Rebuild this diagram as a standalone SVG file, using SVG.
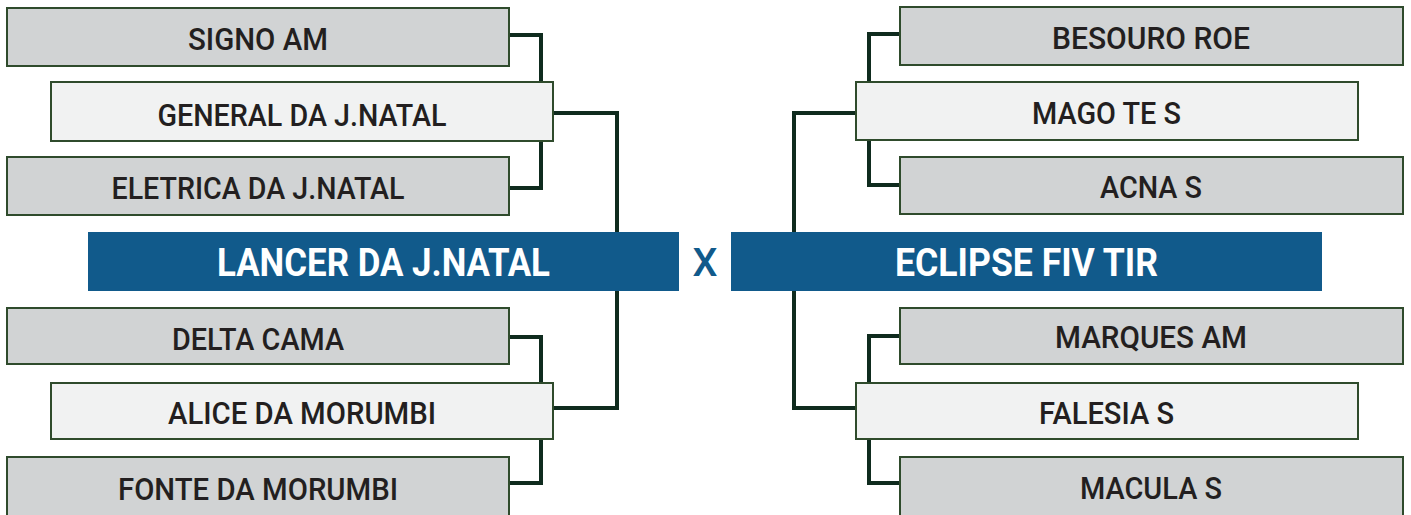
<svg xmlns="http://www.w3.org/2000/svg" width="1411" height="515" viewBox="0 0 1411 515">
<style>
.bg{fill:#ffffff}
.c{fill:none;stroke:#0f2b1e;stroke-width:4}
.g{fill:#d1d3d4;stroke:#2f4b2c;stroke-width:2}
.l{fill:#f1f2f2;stroke:#2f4b2c;stroke-width:2}
.b{fill:#115a8b}
.t{font-family:Roboto,"Liberation Sans",sans-serif;font-weight:500;font-size:32px;fill:#231f20;text-anchor:middle}
.w{font-family:Roboto,"Liberation Sans",sans-serif;font-weight:700;font-size:38px;fill:#ffffff;text-anchor:middle}
.x{font-family:Roboto,"Liberation Sans",sans-serif;font-weight:500;font-size:38px;fill:#115a8b;text-anchor:middle}
</style>
<rect class="bg" x="0" y="0" width="1411" height="515"/>
<g id="connectors">
<path class="c" d="M510,35 H541 V188 H510"/>
<path class="c" d="M553,113 H617 V408 H553"/>
<path class="c" d="M510,337 H541 V483 H510"/>
<path class="c" d="M900,34 H869 V185 H900"/>
<path class="c" d="M855,113 H794 V408 H855"/>
<path class="c" d="M900,336 H869 V483 H900"/>
</g>
<g id="signo"><rect class="g" x="7" y="8" width="502" height="58"/><text class="t" x="258" y="50" textLength="140" lengthAdjust="spacingAndGlyphs">SIGNO AM</text></g>
<g id="general"><rect class="l" x="51" y="82" width="502" height="59"/><text class="t" x="302" y="126" textLength="289" lengthAdjust="spacingAndGlyphs">GENERAL DA J.NATAL</text></g>
<g id="eletrica"><rect class="g" x="7" y="157" width="502" height="58"/><text class="t" x="258" y="199" textLength="293" lengthAdjust="spacingAndGlyphs">ELETRICA DA J.NATAL</text></g>
<g id="lancer"><rect class="b" x="88" y="232" width="591" height="59"/><text class="w" x="383.5" y="276" textLength="333" lengthAdjust="spacingAndGlyphs">LANCER DA J.NATAL</text></g>
<g id="versus"><text class="x" x="705" y="276" textLength="25" lengthAdjust="spacingAndGlyphs">X</text></g>
<g id="eclipse"><rect class="b" x="731" y="232" width="591" height="59"/><text class="w" x="1026.5" y="276" textLength="263" lengthAdjust="spacingAndGlyphs">ECLIPSE FIV TIR</text></g>
<g id="delta"><rect class="g" x="7" y="308" width="502" height="56"/><text class="t" x="258" y="350" textLength="172" lengthAdjust="spacingAndGlyphs">DELTA CAMA</text></g>
<g id="alice"><rect class="l" x="51" y="383" width="502" height="56"/><text class="t" x="302" y="424" textLength="268" lengthAdjust="spacingAndGlyphs">ALICE DA MORUMBI</text></g>
<g id="fonte"><rect class="g" x="7" y="457" width="502" height="62"/><text class="t" x="258" y="500" textLength="280" lengthAdjust="spacingAndGlyphs">FONTE DA MORUMBI</text></g>
<g id="besouro"><rect class="g" x="900" y="7" width="503" height="58"/><text class="t" x="1151" y="49" textLength="198" lengthAdjust="spacingAndGlyphs">BESOURO ROE</text></g>
<g id="mago"><rect class="l" x="856" y="82" width="502" height="58"/><text class="t" x="1106.5" y="124" textLength="149" lengthAdjust="spacingAndGlyphs">MAGO TE S</text></g>
<g id="acna"><rect class="g" x="900" y="157" width="503" height="57"/><text class="t" x="1151" y="198" textLength="102" lengthAdjust="spacingAndGlyphs">ACNA S</text></g>
<g id="marques"><rect class="g" x="900" y="308" width="503" height="56"/><text class="t" x="1151" y="348" textLength="192" lengthAdjust="spacingAndGlyphs">MARQUES AM</text></g>
<g id="falesia"><rect class="l" x="856" y="383" width="502" height="56"/><text class="t" x="1106.5" y="424" textLength="135" lengthAdjust="spacingAndGlyphs">FALESIA S</text></g>
<g id="macula"><rect class="g" x="900" y="457" width="503" height="62"/><text class="t" x="1151" y="499" textLength="142" lengthAdjust="spacingAndGlyphs">MACULA S</text></g>
</svg>
